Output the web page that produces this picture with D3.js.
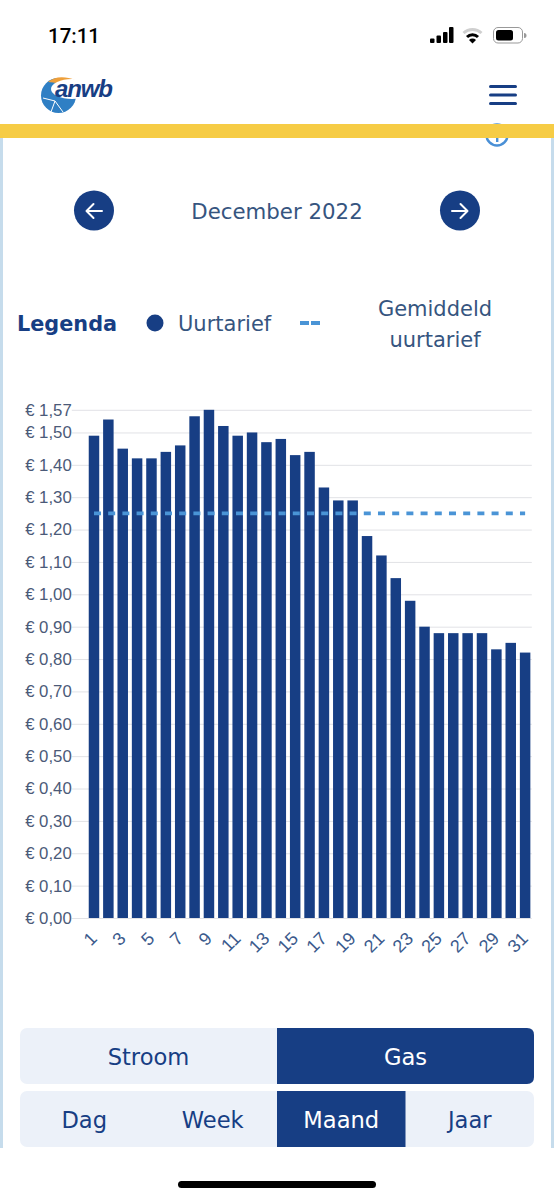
<!DOCTYPE html>
<html>
<head>
<meta charset="utf-8">
<title>Uurtarief gas december 2022</title>
<script src="https://cdn.jsdelivr.net/npm/d3@7/dist/d3.min.js"></script>
<style>
    html, body { margin: 0; padding: 0; background: #fff; }
    svg { display: block; }
    text { font-family: "DejaVu Sans", sans-serif; }
    .yaxis text { font-family: "Liberation Sans", sans-serif; font-size: 16.8px; fill: #4b5a78; }
    .xaxis text { font-family: "Liberation Sans", sans-serif; font-size: 18px; fill: #3b5a8c; }
</style>
</head>
<body>
<svg id="chart" width="554" height="1200"></svg>
<script>
var days = d3.range(1, 32);
var prices = [1.49, 1.54, 1.45, 1.42, 1.42, 1.44, 1.46, 1.55, 1.57, 1.52, 1.49, 1.50, 1.47, 1.48, 1.43, 1.44,
    1.33, 1.29, 1.29, 1.18, 1.12, 1.05, 0.98, 0.90, 0.88, 0.88, 0.88, 0.88, 0.83, 0.85, 0.82];
var average = 1.25;
var yTicks = [0, 0.1, 0.2, 0.3, 0.4, 0.5, 0.6, 0.7, 0.8, 0.9, 1.0, 1.1, 1.2, 1.3, 1.4, 1.5, 1.57];
var xTicks = days.filter(function(d) { return d % 2 === 1; });
var energyTabs = ["Stroom", "Gas"];
var periodTabs = ["Dag", "Week", "Maand", "Jaar"];

var navy = "#173e84";
var textBlue = "#36557f";
var svg = d3.select("#chart");

// Page frame
svg.append("rect").attr("width", 554).attr("height", 1200).attr("fill", "#fff");
svg.append("rect").attr("x", 0).attr("y", 138).attr("width", 3).attr("height", 1010).attr("fill", "#c6dcec");
svg.append("rect").attr("x", 551).attr("y", 138).attr("width", 3).attr("height", 1010).attr("fill", "#c6dcec");

// Info icon, mostly hidden below the yellow bar
svg.append("circle").attr("cx", 497).attr("cy", 135).attr("r", 10.5)
    .attr("fill", "none").attr("stroke", "#4a90d6").attr("stroke-width", 2.5);
svg.append("rect").attr("x", 496).attr("y", 137).attr("width", 2.4).attr("height", 5).attr("fill", "#4a90d6");
svg.append("rect").attr("y", 124).attr("width", 554).attr("height", 14).attr("fill", "#f6cc45");

// Status bar
svg.append("text").attr("x", 74).attr("y", 43).attr("text-anchor", "middle")
    .style("font-family", "Roboto, sans-serif").style("font-size", "20.5px").style("font-weight", 500)
    .attr("fill", "#000").text("17:11");
[[430, 4.5], [436.5, 7.5], [443, 11], [449, 16]].forEach(function(b) {
    svg.append("rect").attr("x", b[0]).attr("y", 43 - b[1]).attr("width", 4.5).attr("height", b[1]).attr("rx", 1).attr("fill", "#000");
});
svg.append("path").attr("d", "M463.5,33 a13.5,13.5 0 0 1 18,0").attr("fill", "none").attr("stroke", "#cfcfcf").attr("stroke-width", 3);
svg.append("path").attr("d", "M467,37 a8,8 0 0 1 11,0").attr("fill", "none").attr("stroke", "#000").attr("stroke-width", 3);
svg.append("path").attr("d", "M469,40 L472.5,43.5 L476,40 a5,5 0 0 0 -7,0 Z").attr("fill", "#000");
svg.append("rect").attr("x", 493.5).attr("y", 27.5).attr("width", 29).attr("height", 15.5).attr("rx", 4.5)
    .attr("fill", "#fff").attr("stroke", "#999").attr("stroke-width", 1);
svg.append("rect").attr("x", 496).attr("y", 30).attr("width", 17).attr("height", 10.5).attr("rx", 2.5).attr("fill", "#000");
svg.append("path").attr("d", "M524,33 a2.5,2.5 0 0 1 0,5").attr("fill", "#999");

// Logo
svg.append("circle").attr("cx", 58.5).attr("cy", 95.5).attr("r", 17.5).attr("fill", "#2f7fc4");
svg.append("path").attr("d", "M48,82 C54,76 66,76 75,80 L70,85 C62,83 54,83 48,82 Z").attr("fill", "#ee9f3a");
svg.append("ellipse").attr("cx", 72).attr("cy", 89).attr("rx", 21).attr("ry", 10).attr("fill", "#fff");
["M43,98 L55,101", "M55,101 L51,112", "M55,101 L63,112"].forEach(function(d) {
    svg.append("path").attr("d", d).attr("stroke", "#fff").attr("stroke-width", 1);
});
svg.append("text").attr("x", 55).attr("y", 97).attr("textLength", 58)
    .style("font-family", "'Liberation Sans', sans-serif").style("font-size", "24px")
    .style("font-weight", "bold").style("font-style", "italic").attr("fill", navy).text("anwb");

// Hamburger menu
[86.5, 95, 103.5].forEach(function(y) {
    svg.append("rect").attr("x", 489).attr("y", y - 1.5).attr("width", 28).attr("height", 3).attr("rx", 1.5).attr("fill", navy);
});

// Month navigation
[[94, "M102,211 H87 M93.5,204 L86.5,211 L93.5,218"], [460, "M452,211 H467 M460.5,204 L467.5,211 L460.5,218"]].forEach(function(n) {
    svg.append("circle").attr("cx", n[0]).attr("cy", 210.5).attr("r", 20).attr("fill", navy);
    svg.append("path").attr("d", n[1]).attr("fill", "none").attr("stroke", "#fff").attr("stroke-width", 2)
        .attr("stroke-linecap", "round").attr("stroke-linejoin", "round");
});
svg.append("text").attr("x", 277).attr("y", 219).attr("text-anchor", "middle")
    .style("font-size", "21.3px").attr("fill", textBlue).text("December 2022");

// Legend
svg.append("text").attr("x", 17).attr("y", 331).style("font-size", "20.8px").style("font-weight", "bold")
    .attr("fill", navy).text("Legenda");
svg.append("circle").attr("cx", 155).attr("cy", 323).attr("r", 8.5).attr("fill", navy);
svg.append("text").attr("x", 178).attr("y", 331).style("font-size", "21px").attr("fill", textBlue).text("Uurtarief");
svg.append("line").attr("x1", 300).attr("x2", 320).attr("y1", 323).attr("y2", 323)
    .attr("stroke", "#4a94d6").attr("stroke-width", 4).attr("stroke-dasharray", "9 2");
svg.append("text").attr("x", 435).attr("y", 316).attr("text-anchor", "middle").style("font-size", "21px")
    .attr("fill", textBlue).text("Gemiddeld");
svg.append("text").attr("x", 435).attr("y", 347).attr("text-anchor", "middle").style("font-size", "21px")
    .attr("fill", textBlue).text("uurtarief");

// Scales
var x = d3.scaleBand().domain(days).range([86.8, 532.3]).paddingInner(0.27).paddingOuter(0.135);
var y = d3.scaleLinear().domain([0, 1.57]).range([918, 409.8]);
var euro = function(d) { return "€ " + d.toFixed(2).replace(".", ","); };

// Y axis with full width grid lines
var yAxis = svg.append("g").attr("class", "yaxis").attr("transform", "translate(86.8,0)")
    .call(d3.axisLeft(y).tickValues(yTicks).tickFormat(euro).tickSize(0).tickPadding(15));
yAxis.select(".domain").remove();
yAxis.selectAll(".tick line").attr("x1", -15).attr("x2", 445).attr("stroke", "#e1e2e6").attr("stroke-width", 1);

// Bars
svg.append("g").selectAll("rect").data(prices).join("rect")
    .attr("x", function(d, i) { return x(days[i]); })
    .attr("y", function(d) { return y(d); })
    .attr("width", x.bandwidth())
    .attr("height", function(d) { return y(0) - y(d); })
    .attr("fill", navy);

// Average line
svg.append("line")
    .attr("x1", x(days[0]) + x.bandwidth() / 2)
    .attr("x2", x(days[days.length - 1]) + x.bandwidth() / 2)
    .attr("y1", y(average)).attr("y2", y(average))
    .attr("stroke", "#4a94d6").attr("stroke-width", 3.6).attr("stroke-dasharray", "7 7.2");

// X axis
var xAxis = svg.append("g").attr("class", "xaxis").attr("transform", "translate(0,918)")
    .call(d3.axisBottom(x).tickValues(xTicks).tickSize(0));
xAxis.select(".domain").remove();
xAxis.selectAll("text")
    .attr("text-anchor", "end")
    .attr("dy", "0.35em")
    .attr("transform", "translate(-2.5,15) rotate(-45)");

// Toggle buttons
function drawTabs(names, active, top) {
    var tabs = d3.scaleBand().domain(names).range([20, 534]);
    var h = 56;
    svg.append("rect").attr("x", 20).attr("y", top).attr("width", 514).attr("height", h).attr("rx", 7).attr("fill", "#ecf1f9");
    names.forEach(function(name, i) {
        var left = tabs(name);
        var w = tabs.bandwidth();
        if (name === active) {
            if (i === names.length - 1) {
                svg.append("path").attr("fill", navy)
                    .attr("d", "M" + left + "," + top + " H" + (left + w - 7) + " q7,0 7,7 V" + (top + h - 7) + " q0,7 -7,7 H" + left + " Z");
            } else {
                svg.append("rect").attr("x", left).attr("y", top).attr("width", w).attr("height", h).attr("fill", navy);
            }
        }
        svg.append("text").attr("x", left + w / 2).attr("y", top + 37).attr("text-anchor", "middle")
            .style("font-size", "22.6px").attr("fill", name === active ? "#fff" : navy).text(name);
    });
}
drawTabs(energyTabs, "Gas", 1028);
drawTabs(periodTabs, "Maand", 1091);

// Home indicator
svg.append("rect").attr("x", 178).attr("y", 1181).attr("width", 198).attr("height", 7).attr("rx", 3.5).attr("fill", "#000");
</script>
</body>
</html>
